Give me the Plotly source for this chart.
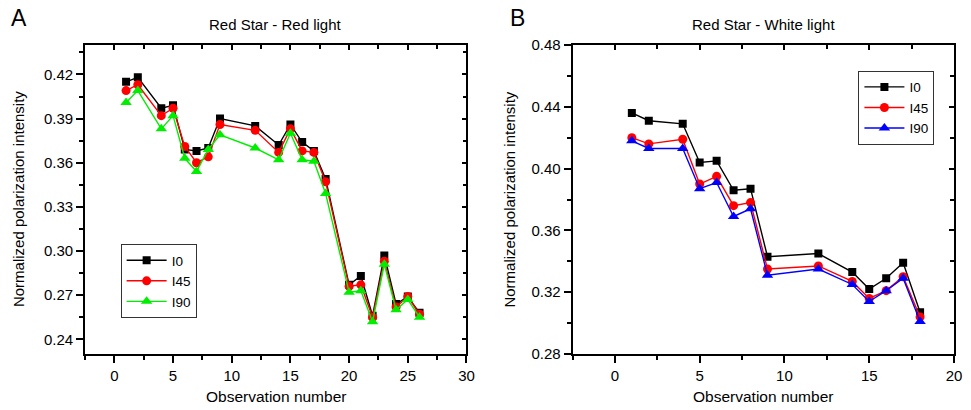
import plotly.graph_objects as go

# Panel A: Red Star - Red light
obs_a = [1, 2, 4, 5, 6, 7, 8, 9, 12, 14, 15, 16, 17, 18, 20, 21, 22, 23, 24, 25, 26]
i0_a = [0.415, 0.418, 0.397, 0.399, 0.369, 0.368, 0.370, 0.390, 0.385, 0.372, 0.386,
        0.374, 0.368, 0.349, 0.277, 0.283, 0.256, 0.297, 0.264, 0.269, 0.258]
i45_a = [0.409, 0.413, 0.392, 0.397, 0.371, 0.360, 0.364, 0.386, 0.382, 0.367, 0.383,
         0.368, 0.367, 0.347, 0.276, 0.277, 0.255, 0.293, 0.262, 0.269, 0.257]
i90_a = [0.401, 0.409, 0.383, 0.392, 0.363, 0.354, 0.369, 0.379, 0.370, 0.362, 0.380,
         0.362, 0.361, 0.339, 0.272, 0.273, 0.252, 0.291, 0.260, 0.267, 0.255]

# Panel B: Red Star - White light
obs_b = [1, 2, 4, 5, 6, 7, 8, 9, 12, 14, 15, 16, 17, 18]
i0_b = [0.436, 0.431, 0.429, 0.404, 0.405, 0.386, 0.387, 0.343, 0.345, 0.333, 0.322, 0.329, 0.339, 0.307]
i45_b = [0.420, 0.416, 0.419, 0.390, 0.395, 0.376, 0.378, 0.335, 0.337, 0.327, 0.316, 0.321, 0.330, 0.304]
i90_b = [0.418, 0.413, 0.413, 0.387, 0.391, 0.369, 0.374, 0.331, 0.335, 0.325, 0.314, 0.321, 0.329, 0.301]

FONT = "Liberation Sans, Arial, Helvetica, sans-serif"
AX_LINE = dict(showline=True, linecolor="black", linewidth=1.6, showgrid=False, zeroline=False)

fig = go.Figure()


def add_series(x, y, name, color, symbol, size, xa, ya, legend):
    fig.add_trace(
        go.Scatter(
            x=x, y=y, name=name, mode="lines+markers",
            line=dict(color=color, width=1.4),
            marker=dict(color=color, symbol=symbol, size=size, line=dict(width=0)),
            xaxis=xa, yaxis=ya, legend=legend,
        )
    )


add_series(obs_a, i0_a, "I0", "black", "square", 8, "x", "y", "legend")
add_series(obs_a, i45_a, "I45", "#ff0000", "circle", 9, "x", "y", "legend")
add_series(obs_a, i90_a, "I90", "#00ee00", "triangle-up", 10, "x", "y", "legend")
add_series(obs_b, i0_b, "I0", "black", "square", 8, "x2", "y2", "legend2")
add_series(obs_b, i45_b, "I45", "#ff0000", "circle", 9, "x2", "y2", "legend2")
add_series(obs_b, i90_b, "I90", "#0000ff", "triangle-up", 10, "x2", "y2", "legend2")

# empty traces so the mirrored (top/right) axes get drawn
for xa, ya in [("x3", "y3"), ("x4", "y4")]:
    fig.add_trace(go.Scatter(x=[None], y=[None], xaxis=xa, yaxis=ya, showlegend=False, hoverinfo="skip"))

dom_a = [0.0, 0.439]
dom_b = [0.561, 1.0]
range_xa = [-2.5, 30]
range_xb = [-2.5, 20]
range_ya = [0.23, 0.44]
range_yb = [0.28, 0.48]

tickfont = dict(family=FONT, size=15, color="black")

main_x = dict(**AX_LINE, ticks="outside", ticklen=7, tickwidth=1.5, tickcolor="black",
              tick0=0, dtick=5, tickfont=tickfont,
              minor=dict(ticks="outside", ticklen=4, tickwidth=1.5, dtick=2.5, tickcolor="black"))
top_x = dict(**AX_LINE, ticks="inside", ticklen=5, tickwidth=1.5, tickcolor="black",
             tick0=0, dtick=5, showticklabels=False,
             minor=dict(ticks="inside", ticklen=4, tickwidth=1.5, dtick=2.5, tickcolor="black"))

legend_style = dict(xanchor="left", yanchor="top", bgcolor="white", bordercolor="#333333",
                    borderwidth=1, itemwidth=40, tracegroupgap=0,
                    font=dict(family=FONT, size=13.5))

fig.update_layout(
    width=971, height=410,
    margin=dict(l=85, r=9, t=45, b=56),
    paper_bgcolor="white", plot_bgcolor="white",
    font=dict(family=FONT, color="black"),
    xaxis=dict(domain=dom_a, range=range_xa, anchor="y", **main_x),
    xaxis2=dict(domain=dom_b, range=range_xb, anchor="y2", **main_x),
    xaxis3=dict(domain=dom_a, range=range_xa, anchor="y3", side="top", overlaying="x", **top_x),
    xaxis4=dict(domain=dom_b, range=range_xb, anchor="y4", side="top", overlaying="x2", **top_x),
    yaxis=dict(range=range_ya, anchor="x", tick0=0.24, dtick=0.03, tickformat=".2f",
               ticks="outside", ticklen=7, tickwidth=1.5, tickcolor="black", tickfont=tickfont,
               minor=dict(ticks="outside", ticklen=4, tickwidth=1.5, dtick=0.015, tickcolor="black"),
               **AX_LINE),
    yaxis2=dict(range=range_yb, anchor="x2", tick0=0.28, dtick=0.04, tickformat=".2f",
                ticks="outside", ticklen=7, tickwidth=1.5, tickcolor="black", tickfont=tickfont,
                minor=dict(ticks="outside", ticklen=4, tickwidth=1.5, dtick=0.02, tickcolor="black"),
                **AX_LINE),
    yaxis3=dict(range=range_ya, anchor="x3", side="right", overlaying="y", tick0=0.24, dtick=0.03,
                ticks="inside", ticklen=5, tickwidth=1.5, tickcolor="black", showticklabels=False,
                minor=dict(ticks="inside", ticklen=4, tickwidth=1.5, dtick=0.015, tickcolor="black"),
                **AX_LINE),
    yaxis4=dict(range=range_yb, anchor="x4", side="right", overlaying="y2", tick0=0.28, dtick=0.04,
                ticks="inside", ticklen=5, tickwidth=1.5, tickcolor="black", showticklabels=False,
                minor=dict(ticks="inside", ticklen=4, tickwidth=1.5, dtick=0.02, tickcolor="black"),
                **AX_LINE),
    legend=dict(x=0.041, y=0.356, **legend_style),
    legend2=dict(x=0.89, y=0.917, **legend_style),
    showlegend=True,
)

annots = [
    dict(text="A", x=-0.076, y=1.087, size=23),
    dict(text="B", x=0.498, y=1.087, size=23),
    dict(text="Red Star - Red light", x=sum(dom_a) / 2, y=1.065, size=15),
    dict(text="Red Star - White light", x=sum(dom_b) / 2, y=1.065, size=15),
    dict(text="Observation number", x=sum(dom_a) / 2, y=-0.139, size=15.5),
    dict(text="Observation number", x=sum(dom_b) / 2, y=-0.139, size=15.5),
]
for a in annots:
    fig.add_annotation(text=a["text"], x=a["x"], y=a["y"], xref="paper", yref="paper",
                       showarrow=False, xanchor="center", yanchor="middle",
                       font=dict(family=FONT, size=a["size"], color="black"))

for xpos in [-0.0764, 0.488]:
    fig.add_annotation(text="Normalized polarization intensity", x=xpos, y=0.5,
                       xref="paper", yref="paper", showarrow=False, textangle=-90,
                       xanchor="center", yanchor="middle",
                       font=dict(family=FONT, size=15, color="black"))

# drop the browser's default 8px body margin so the figure sits at the page corner
fig.write_html("out.html", config={"displayModeBar": False},
               post_script="document.body.style.margin='0';")
